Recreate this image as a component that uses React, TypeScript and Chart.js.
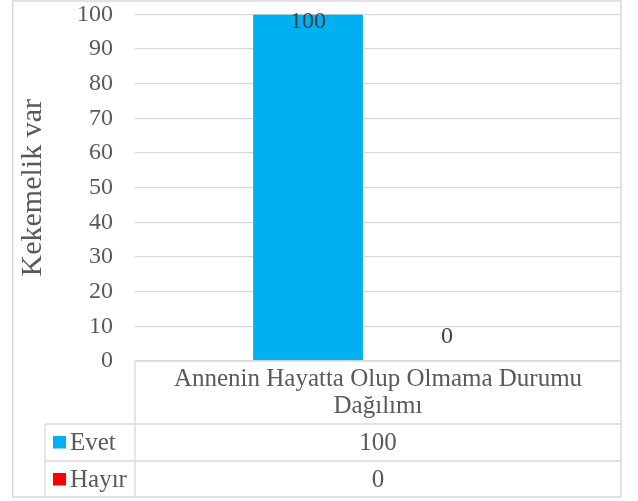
import React, { useEffect, useRef } from 'react';
import { Chart, registerables } from 'chart.js';

Chart.register(...registerables);

const categories = ['Annenin Hayatta Olup Olmama Durumu Dağılımı'];
const categoryLines = ['Annenin Hayatta Olup Olmama Durumu', 'Dağılımı'];
const seriesNames = ['Evet', 'Hayır'];
const evetValues = [100];
const hayirValues = [0];
const seriesColors = ['#00B0F0', '#FF0000'];
const yMin = 0;
const yMax = 100;
const yStep = 10;
const axisTitle = 'Kekemelik var';

const FONT = "'Liberation Serif', 'Times New Roman', serif";
const TEXT = '#595959';
const LINE = '#d9d9d9';

const seriesValues = [evetValues, hayirValues];

const framePlugin = {
  id: 'frameAndTable',
  afterDraw(chart: any) {
    const ctx = chart.ctx as CanvasRenderingContext2D;
    const a = chart.chartArea;
    const xKey = 45;
    const xHead = a.left;
    const xRight = 621;
    const yTop = a.bottom;
    const yHeadBot = yTop + 63;
    const yRow1Bot = yHeadBot + 37;
    const yBot = 497;
    ctx.save();
    // outer border
    ctx.strokeStyle = LINE;
    ctx.lineWidth = 1.5;
    ctx.strokeRect(12.75, 1, xRight - 12.75, yBot - 1);
    // table lines
    ctx.lineWidth = 1.3;
    ctx.beginPath();
    ctx.moveTo(xHead, yTop); ctx.lineTo(xRight, yTop);
    ctx.moveTo(xKey, yHeadBot); ctx.lineTo(xRight, yHeadBot);
    ctx.moveTo(xKey, yRow1Bot); ctx.lineTo(xRight, yRow1Bot);
    ctx.moveTo(xHead, yTop); ctx.lineTo(xHead, yBot);
    ctx.moveTo(xKey, yHeadBot); ctx.lineTo(xKey, yBot);
    ctx.stroke();
    // header text
    ctx.fillStyle = TEXT;
    ctx.font = `25px ${FONT}`;
    ctx.textAlign = 'center';
    ctx.textBaseline = 'alphabetic';
    const cx = (xHead + xRight) / 2;
    categoryLines.forEach((ln, i) => ctx.fillText(ln, cx, yTop + 25 + i * 27));
    // rows
    const rowBases = [yHeadBot + 26, yRow1Bot + 26];
    seriesNames.forEach((name, i) => {
      ctx.fillStyle = seriesColors[i];
      ctx.fillRect(53, rowBases[i] - 14, 13, 12.5);
      ctx.fillStyle = TEXT;
      ctx.textAlign = 'left';
      ctx.fillText(name, 70, rowBases[i]);
      ctx.textAlign = 'center';
      ctx.fillText(String(seriesValues[i][0]), cx, rowBases[i]);
    });
    // bar value labels
    ctx.fillStyle = '#404040';
    ctx.font = `24px ${FONT}`;
    chart.data.datasets.forEach((ds: any, di: number) => {
      const meta = chart.getDatasetMeta(di);
      meta.data.forEach((bar: any, j: number) => {
        let base = bar.y - 18;
        if (base - 16 < a.top) base = a.top + 13.5;
        ctx.fillText(String(ds.data[j]), bar.x, base);
      });
    });
    ctx.restore();
  },
};

export default function App() {
  const ref = useRef<HTMLCanvasElement>(null);
  useEffect(() => {
    document.body.style.margin = '0';
    const chart = new Chart(ref.current!, {
      type: 'bar',
      data: {
        labels: categories,
        datasets: seriesNames.map((n, i) => ({
          label: n,
          data: seriesValues[i],
          backgroundColor: seriesColors[i],
          categoryPercentage: 0.573,
          barPercentage: 0.79,
        })),
      },
      options: {
        animation: false,
        responsive: false,
        layout: { padding: { top: 14.5, right: 18, bottom: 140, left: 0 } },
        plugins: { legend: { display: false }, tooltip: { enabled: false } },
        scales: {
          x: { display: false },
          y: {
            min: yMin,
            max: yMax,
            ticks: { stepSize: yStep, color: TEXT, font: { family: FONT, size: 24 }, padding: 22 },
            grid: { color: LINE, lineWidth: 1.3, drawTicks: false },
            border: { display: false },
            title: {
              display: true,
              text: axisTitle,
              color: TEXT,
              font: { family: FONT, size: 30 },
              padding: { top: 15, bottom: 0 },
            },
            afterFit(scale: any) {
              scale.width = 135;
              scale.paddingTop = 0;
              scale.paddingBottom = 0;
            },
          },
        },
      },
      plugins: [framePlugin],
    });
    return () => chart.destroy();
  }, []);
  return <canvas ref={ref} width={638} height={501} style={{ display: 'block' }} />;
}
